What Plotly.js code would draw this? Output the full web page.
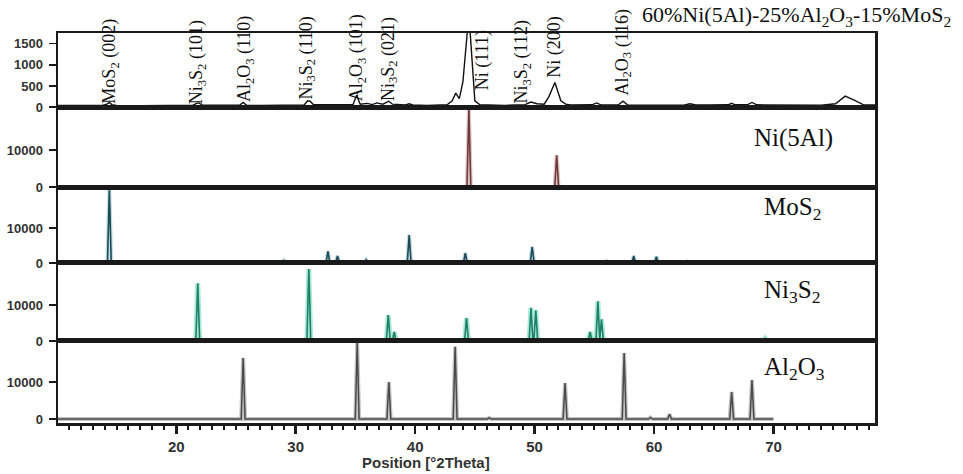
<!DOCTYPE html>
<html>
<head>
<meta charset="utf-8">
<script src="https://cdn.plot.ly/plotly-3.0.1.min.js"></script>
<style>html,body{margin:0;padding:0;background:#fff;}#chart{width:963px;height:474px;}</style>
</head>
<body>
<div id="chart"></div>
<script>
// ---- Data ----
// Composite pattern 60%Ni(5Al)-25%Al2O3-15%MoS2 (counts)
const compX = [10.1, 12, 13.8, 14.2, 14.4, 14.6, 15, 17, 19, 21.4, 21.7, 21.9, 22.2, 24, 25.3, 25.6, 25.9, 27, 29, 30.7, 31.0, 31.2, 31.5, 33, 34.8, 35.1, 35.4, 36, 36.4, 36.8, 37.3, 37.6, 37.8, 38.1, 39.2, 39.5, 39.8, 41, 42.7, 43.1, 43.4, 43.7, 44.0, 44.5, 45.0, 45.4, 46.5, 47.5, 49.2, 49.7, 50.2, 50.8, 51.2, 51.7, 52.2, 52.6, 53, 54, 54.8, 55.2, 55.6, 57.0, 57.4, 57.8, 59, 61, 62.5, 63.0, 63.5, 64.5, 66.2, 66.5, 66.8, 67.8, 68.2, 68.6, 70, 72, 74, 75.2, 76.0, 76.8, 77.5, 78.5];
const compY = [40, 35, 40, 70, 110, 60, 40, 35, 40, 45, 90, 100, 45, 40, 45, 110, 45, 40, 45, 50, 150, 140, 55, 60, 60, 280, 70, 90, 60, 100, 70, 110, 140, 70, 50, 80, 50, 40, 60, 150, 330, 200, 600, 2200, 150, 60, 45, 40, 60, 120, 80, 70, 250, 580, 150, 70, 50, 45, 55, 100, 50, 50, 140, 50, 45, 50, 45, 80, 50, 50, 55, 90, 55, 55, 110, 55, 50, 40, 45, 80, 260, 160, 60, 50];

// Reference patterns: peak positions (deg 2theta) and heights (counts)
const niPos  = [44.5, 51.85];
const niH    = [20800, 8600];
const mosPos = [14.4, 29.0, 32.7, 33.5, 35.9, 39.5, 44.2, 49.8, 56.0, 58.3, 60.2, 62.8, 68.6];
const mosH   = [20800, 700, 3300, 2000, 900, 8000, 2800, 4600, 500, 2000, 1800, 400, 300];
const ni3Pos = [21.8, 31.1, 37.75, 38.25, 44.3, 49.7, 50.1, 54.65, 55.3, 55.6, 69.3];
const ni3H   = [16000, 20000, 7200, 2500, 6400, 9200, 8500, 2500, 11000, 6000, 700];
const alPos  = [25.6, 35.15, 37.8, 43.35, 46.2, 52.55, 57.5, 59.7, 61.3, 66.5, 68.2];
const alH    = [16500, 20500, 10000, 19500, 300, 9700, 17800, 400, 1300, 7300, 10500];

// Peak labels on the composite pattern
const labelText = ['MoS<sub>2</sub> (002)', 'Ni<sub>3</sub>S<sub>2</sub> (101)', 'Al<sub>2</sub>O<sub>3</sub> (110)', 'Ni<sub>3</sub>S<sub>2</sub> (110)', 'Al<sub>2</sub>O<sub>3</sub> (101)', 'Ni<sub>3</sub>S<sub>2</sub> (021)', 'Ni (111)', 'Ni<sub>3</sub>S<sub>2</sub> (112)', 'Ni (200)', 'Al<sub>2</sub>O<sub>3</sub> (116)'];
const labelPos  = [14.5, 21.85, 25.75, 31.0, 35.25, 37.8, 45.7, 49.0, 51.6, 57.45];
const labelMid  = [0.928, 0.926, 0.933, 0.936, 0.936, 0.933, 0.931, 0.926, 0.964, 0.949];

const sampleNames = ['Ni(5Al)', 'MoS<sub>2</sub>', 'Ni<sub>3</sub>S<sub>2</sub>', 'Al<sub>2</sub>O<sub>3</sub>'];
const xTitle = 'Position [°2Theta]';
const compTitle = '60%Ni(5Al)-25%Al<sub>2</sub>O<sub>3</sub>-15%MoS<sub>2</sub>';

// ---- Build stick-like peak profiles from the peak lists ----
function profile(pos, h, start, end) {
  const w = 0.16;
  const xs = [start], ys = [0];
  for (let i = 0; i < pos.length; i++) {
    xs.push(pos[i] - w, pos[i], pos[i] + w);
    ys.push(0, h[i], 0);
  }
  xs.push(end); ys.push(0);
  return {x: xs, y: ys};
}

const niP = profile(niPos, niH, 10.0, 70);
const mosP = profile(mosPos, mosH, 10.0, 70);
const ni3P = profile(ni3Pos, ni3H, 10.0, 70);
const alP = profile(alPos, alH, 10.0, 70);

function halo(p, xa, ya, color, width) {
  return {x: p.x, y: p.y, xaxis: xa, yaxis: ya, type: 'scatter', mode: 'lines',
    line: {color: color, width: width}, hoverinfo: 'skip', showlegend: false};
}
function main(p, xa, ya, color, width) {
  return {x: p.x, y: p.y, xaxis: xa, yaxis: ya, type: 'scatter', mode: 'lines',
    line: {color: color, width: width}, showlegend: false};
}

const traces = [
  {x: compX, y: compY, xaxis: 'x', yaxis: 'y', type: 'scatter', mode: 'lines',
   line: {color: '#111', width: 1.4}, showlegend: false},
  halo(niP, 'x2', 'y2', 'rgba(200,150,150,0.55)', 4),
  main(niP, 'x2', 'y2', '#6e3b3b', 1.6),
  halo(mosP, 'x3', 'y3', 'rgba(140,190,200,0.55)', 4),
  main(mosP, 'x3', 'y3', '#1d4a55', 1.6),
  halo(ni3P, 'x4', 'y4', 'rgba(110,220,190,0.6)', 5),
  main(ni3P, 'x4', 'y4', '#1f7f68', 1.6),
  halo(alP, 'x5', 'y5', 'rgba(170,170,170,0.7)', 4),
  main(alP, 'x5', 'y5', '#4a4a4a', 1.5)
];

// ---- Layout ----
const xr = [10.1, 78.5];
const lineCol = '#1a1a1a';
const tickFont = {family: 'Liberation Sans, Arial, sans-serif', size: 13, color: '#333', weight: 'bold'};

function xax(anchor, bottom) {
  const a = {anchor: anchor, range: xr, showline: true, mirror: true, linecolor: lineCol, linewidth: 2.5,
    showgrid: false, zeroline: false, showticklabels: false, ticks: ''};
  if (anchor !== 'y') a.matches = 'x';
  if (bottom) {
    Object.assign(a, {showticklabels: true, ticks: 'outside', ticklen: 8, tickwidth: 2.5, tickcolor: lineCol,
      dtick: 10, tick0: 0,
      minor: {dtick: 1, ticks: 'outside', ticklen: 4, tickwidth: 2, tickcolor: lineCol},
      tickfont: {family: 'Liberation Sans, Arial, sans-serif', size: 15, color: '#333', weight: 'bold'}});
  }
  return a;
}
function yax(domain, range, tickvals) {
  return {domain: domain, range: range, showline: true, mirror: true, linecolor: lineCol, linewidth: 2.5,
    showgrid: false, zeroline: false, ticks: 'outside', ticklen: 7, tickwidth: 1.8, tickcolor: lineCol,
    tickvals: tickvals, ticktext: tickvals.map(String), tickfont: tickFont, ticklabelstandoff: 3};
}

const annotations = [];
for (let i = 0; i < labelText.length; i++) {
  annotations.push({text: labelText[i], x: labelPos[i], xref: 'x', y: labelMid[i], yref: 'paper',
    textangle: -90, xanchor: 'center', yanchor: 'middle', showarrow: false,
    font: {family: 'Liberation Serif, Times New Roman, serif', size: 18, color: '#111'}});
}
const nameX = [0.849, 0.862, 0.862, 0.862];
const nameY = [0.731, 0.551, 0.336, 0.141];
for (let i = 0; i < sampleNames.length; i++) {
  annotations.push({text: sampleNames[i], x: nameX[i], xref: 'paper', y: nameY[i], yref: 'paper',
    xanchor: 'left', yanchor: 'middle', showarrow: false,
    font: {family: 'Liberation Serif, Times New Roman, serif', size: 25, color: '#111'}});
}
annotations.push({text: compTitle, x: 0.712, xref: 'paper', y: 1.0436, yref: 'paper',
  xanchor: 'left', yanchor: 'middle', showarrow: false,
  font: {family: 'Liberation Serif, Times New Roman, serif', size: 22, color: '#111'}});
annotations.push({text: xTitle, x: 0.450, xref: 'paper', y: -0.10, yref: 'paper',
  xanchor: 'center', yanchor: 'middle', showarrow: false,
  font: {family: 'Liberation Sans, Arial, sans-serif', size: 15, color: '#333', weight: 'bold'}});

const layout = {
  width: 963, height: 474,
  margin: {l: 58, r: 88, t: 33, b: 51},
  paper_bgcolor: '#fff', plot_bgcolor: '#fff',
  showlegend: false,
  xaxis: xax('y', false),
  xaxis2: xax('y2', false),
  xaxis3: xax('y3', false),
  xaxis4: xax('y4', false),
  xaxis5: xax('y5', true),
  yaxis: yax([0.8077, 1], [-20, 1750], [0, 500, 1000, 1500]),
  yaxis2: yax([0.6051, 0.8077], [0, 21350], [0, 10000]),
  yaxis3: yax([0.4103, 0.6051], [0, 21700], [0, 10000]),
  yaxis4: yax([0.2103, 0.4103], [0, 21670], [0, 10000]),
  yaxis5: yax([0, 0.2103], [-1080, 21080], [0, 10000]),
  annotations: annotations
};

Plotly.newPlot('chart', traces, layout, {staticPlot: true, displayModeBar: false});
</script>
</body>
</html>
